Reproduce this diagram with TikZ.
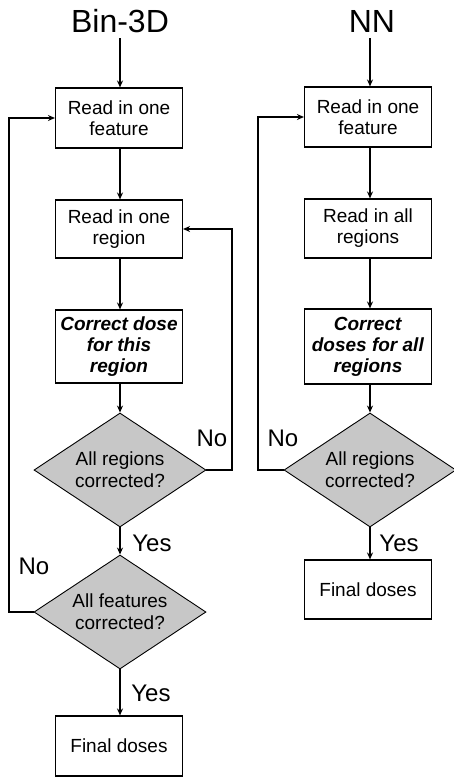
\documentclass[tikz,border=0pt]{standalone}
\usepackage{fontspec}
\setmainfont{Liberation Sans}
\usetikzlibrary{shapes.geometric,arrows.meta}
\begin{document}
\begin{tikzpicture}[x=1pt,y=-1pt,
 box/.style={draw,line width=1.1pt,minimum width=127pt,inner sep=0pt,align=center,font=\fontsize{19}{21}\selectfont},
 dec/.style={diamond,draw,line width=0.9pt,fill=black!22,minimum width=172pt,minimum height=114pt,inner sep=0pt,aspect=1.51,align=center,font=\fontsize{19}{22}\selectfont},
 arr/.style={line width=1.8pt,-{Stealth[length=7pt,width=6pt]}},
 ln/.style={line width=1.8pt},
 lbl/.style={font=\fontsize{24}{24}\selectfont,inner sep=0pt},
 ttl/.style={font=\fontsize{32}{32}\selectfont,inner sep=0pt}]
\useasboundingbox (0,0) rectangle (453,777);
% ---------- Bin-3D ----------
\node[ttl,anchor=base] (tL) at (120,32) {Bin-3D};
\coordinate (sL) at (120,38);
\node[box,minimum height=60pt] (b1) at (119,118) {Read in one\\feature};
\node[box,minimum height=58pt] (b2) at (119,229) {Read in one\\region};
\node[box,minimum height=73pt] (b3) at (119,346.5) {\textbf{\textit{Correct dose}}\\\textbf{\textit{for this}}\\\textbf{\textit{region}}};
\node[dec] (d1) at (120,470) {All regions\\corrected?};
\node[dec] (d2) at (120,612) {All features\\corrected?};
\node[box,minimum height=60pt] (b4) at (119,746) {Final doses};
\draw[arr] (sL) -- (b1.north -| sL);
\draw[arr] (b1.south -| sL) -- (b2.north -| sL);
\draw[arr] (b2.south -| sL) -- (b3.north -| sL);
\draw[arr] (b3.south -| sL) -- (d1.north);
\draw[arr] (d1.south) -- (d2.north);
\draw[arr] (d2.south) -- (b4.north -| d2.south);
\coordinate (rL) at (232,470);
\draw[arr] (d1.east) -- (rL) |- (b2.east);
\coordinate (lL) at (9,612);
\draw[arr] (d2.west) -- (lL) |- (b1.west);
\node[lbl] (n1) at (212,438) {No};
\node[lbl] (y1) at (152,543) {Yes};
\node[lbl] (n2) at (34,566) {No};
\node[lbl] (y2) at (151,693) {Yes};
% ---------- NN ----------
\node[ttl,anchor=base] (tR) at (372,32) {NN};
\coordinate (sR) at (370,38);
\node[box,minimum height=60pt] (c1) at (368,117) {Read in one\\feature};
\node[box,minimum height=59pt] (c2) at (368,228.5) {Read in all\\regions};
\node[box,minimum height=75pt] (c3) at (368,346.5) {\textbf{\textit{Correct}}\\\textbf{\textit{doses for all}}\\\textbf{\textit{regions}}};
\node[dec] (e1) at (370,470) {All regions\\corrected?};
\node[box,minimum height=59pt] (c4) at (368,589.5) {Final doses};
\draw[arr] (sR) -- (c1.north -| sR);
\draw[arr] (c1.south -| sR) -- (c2.north -| sR);
\draw[arr] (c2.south -| sR) -- (c3.north -| sR);
\draw[arr] (c3.south -| sR) -- (e1.north);
\draw[arr] (e1.south) -- (c4.north -| e1.south);
\coordinate (lR) at (258,470);
\draw[arr] (e1.west) -- (lR) |- (c1.west);
\node[lbl] (n3) at (283,438) {No};
\node[lbl] (y3) at (399,543) {Yes};
\end{tikzpicture}
\end{document}
